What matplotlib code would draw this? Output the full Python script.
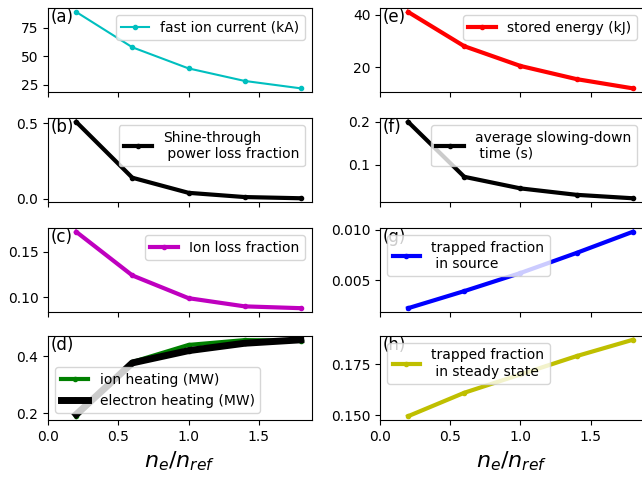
import matplotlib
matplotlib.use('Agg')
import matplotlib.pyplot as plt

# density scan, normalised to the reference density
ne = [0.2, 0.6, 1.0, 1.4, 1.8]

fast_ion_current = [89, 58, 39.5, 28.5, 22]          # kA
shine_through = [0.51, 0.14, 0.04, 0.012, 0.004]     # fraction
ion_loss = [0.172, 0.124, 0.099, 0.090, 0.088]       # fraction
ion_heating = [0.19, 0.38, 0.44, 0.457, 0.455]       # MW
electron_heating = [0.196, 0.377, 0.42, 0.446, 0.458]  # MW

stored_energy = [41, 28, 20.5, 15.5, 12]             # kJ
slowing_down = [0.20, 0.072, 0.045, 0.030, 0.022]    # s
trapped_source = [0.0022, 0.0039, 0.0057, 0.0077, 0.0098]
trapped_steady = [0.1495, 0.161, 0.170, 0.179, 0.187]

fig = plt.figure(figsize=(6.42, 4.8), dpi=100)

lefts = [0.075, 0.592]
bottoms = [0.808, 0.579, 0.35, 0.125]
w, h = 0.411, 0.175

axes = {}
labels = 'abcdefgh'
k = 0
for col, x0 in enumerate(lefts):
    for row, y0 in enumerate(bottoms):
        if k == 0:
            ax = fig.add_axes([x0, y0, w, h])
            first = ax
        else:
            ax = fig.add_axes([x0, y0, w, h], sharex=first)
        axes[labels[k]] = ax
        k += 1

axes['a'].plot(ne, fast_ion_current, 'c.-', lw=1.5, label='fast ion current (kA)')
axes['a'].legend(loc='upper right')

axes['b'].plot(ne, shine_through, 'k.-', lw=3, label='Shine-through\n power loss fraction')
axes['b'].legend(loc='upper right')

axes['c'].plot(ne, ion_loss, 'm.-', lw=3, label='Ion loss fraction')
axes['c'].legend(loc='upper right')

axes['d'].plot(ne, ion_heating, 'g.-', lw=3, label='ion heating (MW)')
axes['d'].plot(ne, electron_heating, 'k.-', lw=5, label='electron heating (MW)')
axes['d'].legend(loc='lower left')

axes['e'].plot(ne, stored_energy, 'r.-', lw=3, label='stored energy (kJ)')
axes['e'].legend(loc='upper right')

axes['f'].plot(ne, slowing_down, 'k.-', lw=3, label='average slowing-down\n time (s)')
axes['f'].legend(loc='upper right')

axes['g'].plot(ne, trapped_source, 'b.-', lw=3, label='trapped fraction\n in source')
axes['g'].legend(loc='upper left')

axes['h'].plot(ne, trapped_steady, 'y.-', lw=3, label='trapped fraction\n in steady state')
axes['h'].legend(loc='upper left')

axes['a'].set_yticks([25, 50, 75])
axes['b'].set_yticks([0.0, 0.5])
axes['d'].set_yticks([0.2, 0.4])
axes['e'].set_yticks([20, 40])
axes['f'].set_yticks([0.1, 0.2])
axes['g'].set_yticks([0.005, 0.010])
axes['h'].set_yticks([0.150, 0.175])
axes['h'].yaxis.set_major_formatter(matplotlib.ticker.FormatStrFormatter('%.3f'))
axes['g'].yaxis.set_major_formatter(matplotlib.ticker.FormatStrFormatter('%.3f'))

first.set_xlim(0, 1.88)
first.set_xticks([0.0, 0.5, 1.0, 1.5])

for key, ax in axes.items():
    ax.text(0.01, 1.0, '(%s)' % key, transform=ax.transAxes, va='top', fontsize=12)
    if key not in ('d', 'h'):
        ax.tick_params(labelbottom=False)
    else:
        ax.set_xlabel('$n_e/n_{ref}$', fontsize=16)

fig.savefig('out.png', dpi=100)
